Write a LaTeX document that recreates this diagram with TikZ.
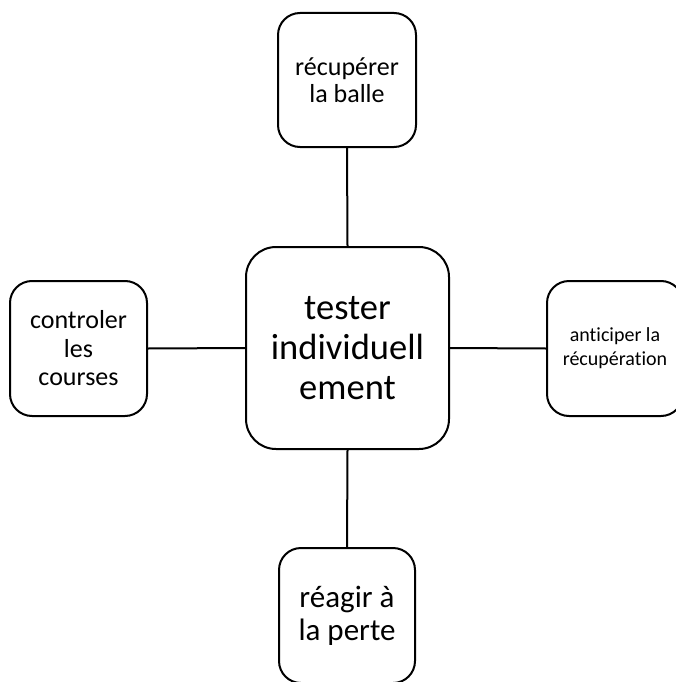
\documentclass[tikz,border=0pt]{standalone}
\usepackage{fontspec}
\setmainfont{Carlito}[Ligatures=NoCommon]
\begin{document}
\begin{tikzpicture}[x=1pt,y=1pt,
  box/.style={draw=black,line width=2pt,rounded corners=22pt,align=center,inner sep=0pt,fill=white},
  link/.style={draw=black,line width=2pt}]
\useasboundingbox (0,0) rectangle (675,-682);
\node[box,minimum width=203pt,minimum height=202pt,rounded corners=30pt,font=\fontsize{36.5}{40}\selectfont] (c) at (347.5,-348) {tester\\individuell\\ement};
\node[box,minimum width=138pt,minimum height=134pt,font=\fontsize{26}{27}\selectfont] (t) at (347,-80) {récupérer\\la balle};
\node[box,minimum width=137pt,minimum height=135pt,font=\fontsize{26}{28.5}\selectfont] (l) at (78.5,-348.5) {controler\\les\\courses};
\node[box,minimum width=136pt,minimum height=135pt,font=\fontsize{20}{24}\selectfont] (r) at (615,-348.5) {anticiper la\\récupération};
\node[box,minimum width=136pt,minimum height=135pt,font=\fontsize{31}{33}\selectfont] (b) at (347,-615.5) {réagir à\\la perte};
\draw[link] (c.north) -- (t.south);
\draw[link] (c.south) -- (b.north);
\draw[link] (c.west) -- (l.east);
\draw[link] (c.east) -- (r.west);
\end{tikzpicture}
\end{document}
